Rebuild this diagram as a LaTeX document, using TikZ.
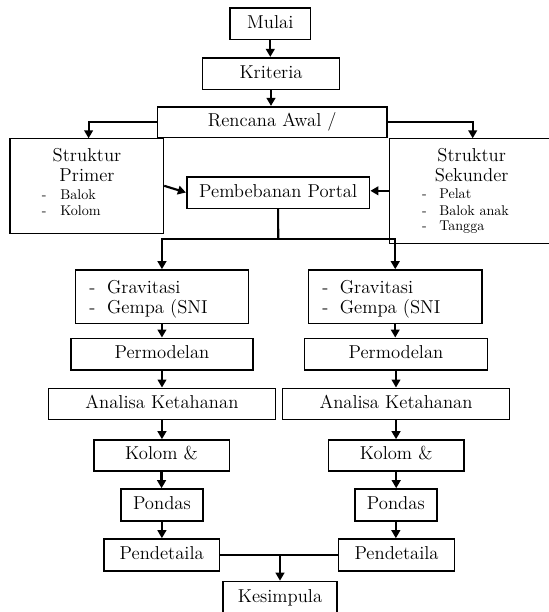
\documentclass[tikz,border=0pt]{standalone}
\usetikzlibrary{arrows.meta,fit}
\begin{document}
\begin{tikzpicture}[x=0.75pt,y=-0.75pt,
  box/.style={draw, line width=1.2pt, inner sep=0pt, rectangle},
  txt/.style={inner sep=0pt, font=\fontsize{14}{16}\selectfont, text height=9.8pt, text depth=3pt},
  sml/.style={inner sep=0pt, font=\fontsize{10.6}{12}\selectfont, text height=7.5pt, text depth=2.3pt},
  arr/.style={line width=1.6pt, -{Triangle[length=6pt,width=6.5pt]}},
  ln/.style={line width=1.6pt}]
\useasboundingbox (0,0) rectangle (549,612);
\clip (0,0) rectangle (549,612);
% main column
\node[box, fit={(230,7.7)(310.6,39.3)}, label={[txt]center:Mulai}] (mulai) {};
\node[box, fit={(202.4,57.7)(339.6,89.3)}, label={[txt]center:Kriteria}] (krit) {};
\node[box, fit={(157.6,106.7)(386.9,137.3)}, label={[txt]center:Rencana Awal /}] (renc) {};
% struktur boxes
\node[box, fit={(10,138.3)(163.4,233.3)}] (prim) {};
\node[txt] (p1) at (87,156.7) {Struktur};
\node[txt] (p2) at (87,176.7) {Primer};
\node[sml, anchor=west] (p3a) at (41.5,195.7) {-};
\node[sml, anchor=west] (p3) at (60,195.7) {Balok};
\node[sml, anchor=west] (p4a) at (41.5,211.7) {-};
\node[sml, anchor=west] (p4) at (60,211.7) {Kolom};
\node[box, fit={(389.5,138.3)(575,243.3)}] (sek) {};
\node[txt] (s1) at (471.7,156.7) {Struktur};
\node[txt] (s2) at (471.7,176.7) {Sekunder};
\node[sml, anchor=west] (s3a) at (421.8,195) {-};
\node[sml, anchor=west] (s3) at (439,195) {Pelat};
\node[sml, anchor=west] (s4a) at (421.8,211.7) {-};
\node[sml, anchor=west] (s4) at (439,211.7) {Balok anak};
\node[sml, anchor=west] (s5a) at (421.8,227.3) {-};
\node[sml, anchor=west] (s5) at (439,227.3) {Tangga};
\node[box, fit={(186.7,176.7)(369.6,208.3)}, label={[txt]center:Pembebanan Portal}] (pemb) {};
% left column
\node[box, fit={(75.3,270)(248.6,323.3)}] (gl) {};
\node[txt, anchor=west] (gl1a) at (89,289) {-};
\node[txt, anchor=west] (gl1) at (106.8,289) {Gravitasi};
\node[txt, anchor=west] (gl2a) at (89,309) {-};
\node[txt, anchor=west] (gl2) at (106.8,309) {Gempa (SNI};
\node[box, fit={(71,338.3)(253,370)}, label={[txt]center:Permodelan}] (pl) {};
\node[box, fit={(48.3,388.3)(275.6,419.3)}, label={[txt]center:Analisa Ketahanan}] (al) {};
\node[box, fit={(93.8,440)(229.3,470.7)}, label={[txt]center:Kolom \&}] (kl) {};
\node[box, fit={(120.8,489)(203,521)}, label={[txt]center:Pondas}] (ol) {};
\node[box, fit={(104,539)(219.5,570.7)}, label={[txt]center:Pendetaila}] (dl) {};
% right column
\node[box, fit={(308.5,270)(482,323.3)}] (gr) {};
\node[txt, anchor=west] (gr1a) at (322,289) {-};
\node[txt, anchor=west] (gr1) at (339.6,289) {Gravitasi};
\node[txt, anchor=west] (gr2a) at (322,309) {-};
\node[txt, anchor=west] (gr2) at (339.6,309) {Gempa (SNI};
\node[box, fit={(304.6,338.3)(487.4,370)}, label={[txt]center:Permodelan}] (pr) {};
\node[box, fit={(282.6,388.3)(509.5,419.3)}, label={[txt]center:Analisa Ketahanan}] (ar) {};
\node[box, fit={(328.4,440)(464,470.7)}, label={[txt]center:Kolom \&}] (kr) {};
\node[box, fit={(354.7,489)(437,521)}, label={[txt]center:Pondas}] (or) {};
\node[box, fit={(338.6,539)(454.5,570.7)}, label={[txt]center:Pendetaila}] (dr) {};
\node[box, fit={(223,581.5)(337,614.5)}, label={[txt]center:Kesimpula}] (kes) {};
% connectors
\draw[arr] (mulai.south) -- (mulai.south |- krit.north);
\draw[arr] (krit.south) -- (krit.south |- renc.north);
\coordinate (cpl) at (88.6,138.3);
\coordinate (cpr) at (472.7,138.3);
\draw[arr] (renc.west) -| (cpl);
\draw[arr] (renc.east) -| (cpr);
\draw[arr] (prim.east) -- (pemb.west);
\draw[arr] (sek.west) -- (sek.west -| pemb.east);
\coordinate (split) at (278.2,239.3);
\draw[ln] (pemb.south) -- (split);
\draw[arr] (split) -| (gl.north);
\draw[arr] (split) -| (gr.north);
\draw[arr] (gl.south) -- (gl.south |- pl.north);
\draw[arr] (pl.south) -- (pl.south |- al.north);
\draw[arr] (al.south) -- (al.south |- kl.north);
\draw[arr] (kl.south) -- (kl.south |- ol.north);
\draw[arr] (ol.south) -- (ol.south |- dl.north);
\draw[arr] (gr.south) -- (gr.south |- pr.north);
\draw[arr] (pr.south) -- (pr.south |- ar.north);
\draw[arr] (ar.south) -- (ar.south |- kr.north);
\draw[arr] (kr.south) -- (kr.south |- or.north);
\draw[arr] (or.south) -- (or.south |- dr.north);
\draw[ln] (dl.east) -- (dr.west);
\coordinate (join) at (280,554.8);
\draw[arr] (join) -- (join |- kes.north);
\end{tikzpicture}
\end{document}
